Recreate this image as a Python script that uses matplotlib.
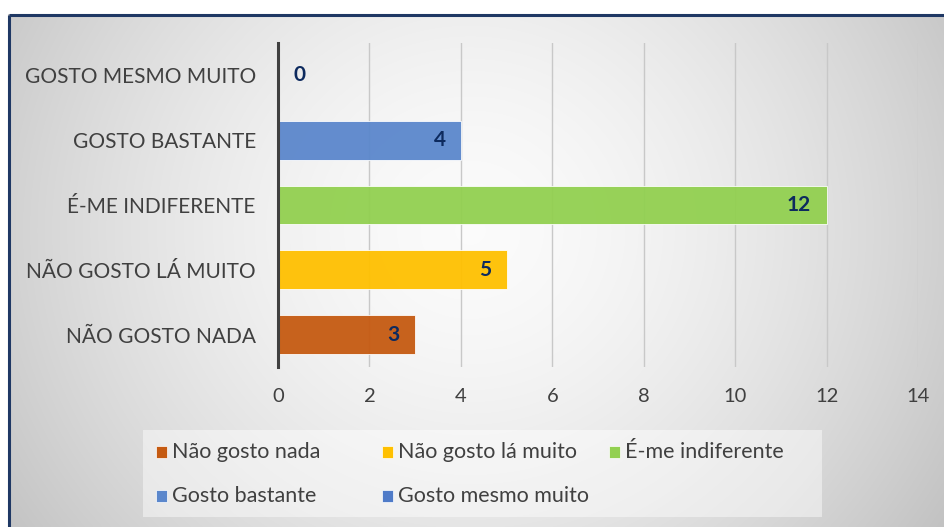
import numpy as np
import matplotlib
matplotlib.use("Agg")
import matplotlib.pyplot as plt
from matplotlib.patches import Rectangle

categories = ["NÃO GOSTO NADA", "NÃO GOSTO LÁ MUITO", "É-ME INDIFERENTE",
              "GOSTO BASTANTE", "GOSTO MESMO MUITO"]
values = [3, 5, 12, 4, 0]
legend_labels = ["Não gosto nada", "Não gosto lá muito", "É-me indiferente",
                 "Gosto bastante", "Gosto mesmo muito"]
colors = ["#c55a11", "#ffc000", "#92d050", "#5b87cc", "#4f7bc8"]
xticks = [0, 2, 4, 6, 8, 10, 12, 14]

plt.rcParams['font.family'] = ['Lato', 'DejaVu Sans']

W, H = 945, 527
fig = plt.figure(figsize=(W / 100, H / 100), dpi=100)

# radial gradient background
bg = fig.add_axes([0, 0, 1, 1], zorder=-10)
yy, xx = np.mgrid[0:H, 0:W]
r = np.sqrt(((xx - 470) / 1.0) ** 2 + ((yy - 230) / 0.95) ** 2)
g = 0.985 - 0.22 * np.clip(r / 560, 0, 1.2) ** 1.6
img = np.dstack([g, g, g])
img[:14, :, :] = 1.0
img[:, :8, :] = 1.0
bg.imshow(np.clip(img, 0, 1), extent=[0, W, H, 0], aspect='auto')
bg.set_xlim(0, W)
bg.set_ylim(H, 0)
bg.axis('off')
bg.plot([9, 9], [H + 5, 14.5], color="#1f3864", lw=2.2, solid_capstyle='butt')
bg.plot([9, W + 5], [14.5, 14.5], color="#1f3864", lw=2.2, solid_capstyle='butt')

ax = fig.add_axes([278 / W, 1 - 367 / H, (918 - 278) / W, (367 - 43) / H])
ax.set_facecolor('none')
y = np.arange(len(categories))
ax.barh(y, values, height=0.6, color=colors, edgecolor="#ffffff", linewidth=0.6,
        alpha=0.95, zorder=3)
ax.set_xlim(0, 14)
ax.set_ylim(-0.5, len(categories) - 0.5)
ax.set_xticks(xticks)
ax.set_yticks(y)
ax.set_yticklabels(categories, fontsize=15, color="#404040")
ax.tick_params(axis='x', labelsize=14.5, colors="#404040", length=0, pad=15)
ax.tick_params(axis='y', length=0, pad=16)
ax.grid(axis='x', color="#c8c8c8", lw=1, zorder=0)
for s in ['top', 'right', 'bottom']:
    ax.spines[s].set_visible(False)
ax.spines['left'].set_color("#404040")
ax.spines['left'].set_linewidth(2.2)
ax.spines['left'].set_zorder(5)

for yi, v in zip(y, values):
    if v > 0:
        ax.annotate(str(v), (v, yi), xytext=(-11, 0), textcoords='offset points',
                    ha='right', va='center', fontsize=15, fontweight='bold',
                    color="#0d2a5e", zorder=6)
    else:
        ax.annotate(str(v), (v, yi), xytext=(11, 0), textcoords='offset points',
                    ha='left', va='center', fontsize=15, fontweight='bold',
                    color="#0d2a5e", zorder=6)

# legend (manual, row-major layout)
lg_x0, lg_y0, lg_x1, lg_y1 = 143, 430, 822, 517
fig.patches.append(Rectangle((lg_x0 / W, 1 - lg_y1 / H), (lg_x1 - lg_x0) / W,
                             (lg_y1 - lg_y0) / H, transform=fig.transFigure,
                             facecolor="white", alpha=0.45, edgecolor='none', zorder=1))
col_x = [156, 382, 609]
row_y = [452, 496]
for i, (lab, c) in enumerate(zip(legend_labels, colors)):
    cx = col_x[i % 3]
    cy = row_y[i // 3]
    fig.patches.append(Rectangle((cx / W, 1 - (cy + 6) / H), 11 / W, 12 / H,
                                 transform=fig.transFigure, facecolor=c,
                                 edgecolor="#ffffff", lw=0.5, zorder=2))
    fig.text((cx + 16) / W, 1 - cy / H, lab, fontsize=15.5, color="#404040",
             ha='left', va='center', zorder=3)

fig.savefig("out.png", dpi=100)
